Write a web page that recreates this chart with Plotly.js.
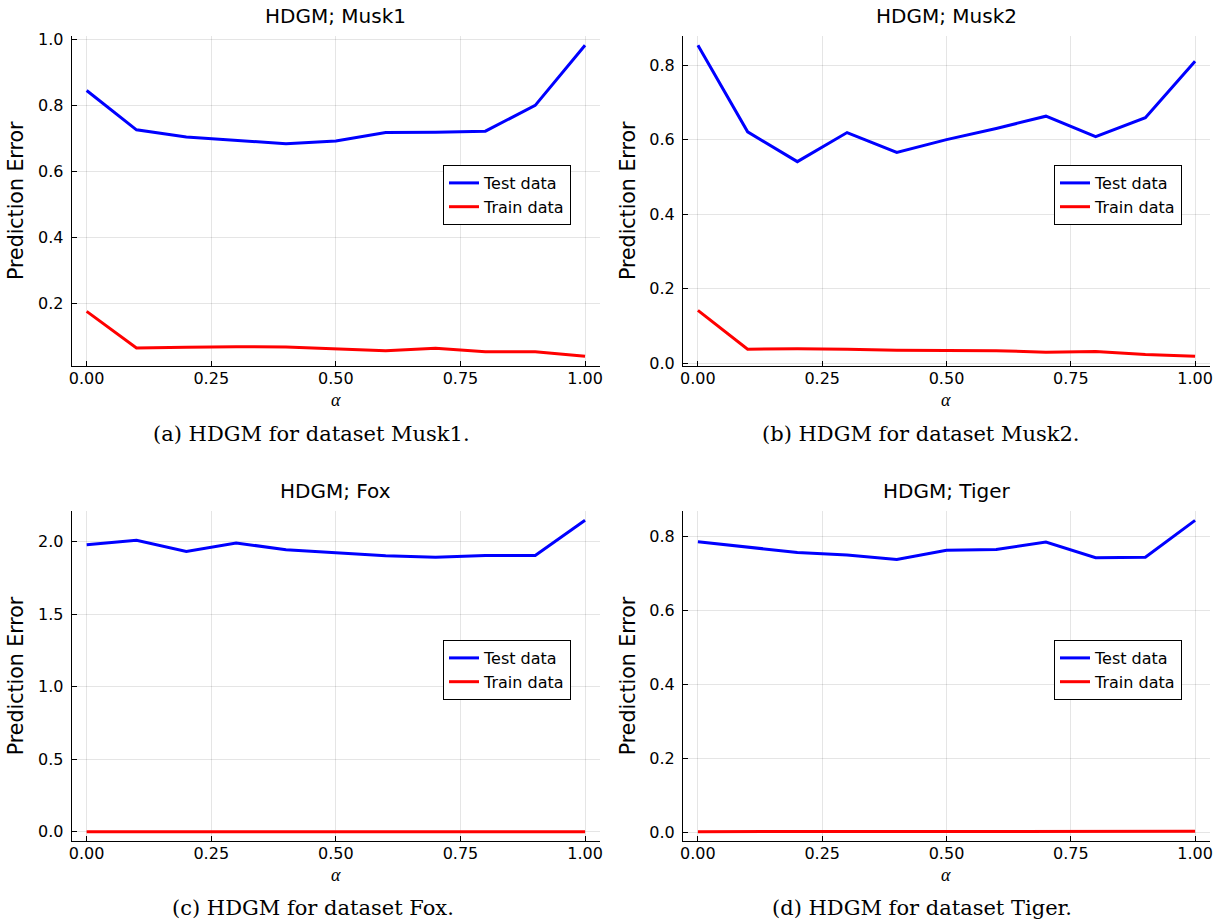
<!DOCTYPE html>
<html>
<head>
<meta charset="utf-8">
<script src="https://cdn.plot.ly/plotly-3.0.1.min.js"></script>
<style>html,body{margin:0;padding:0;background:#fff;}#chart{width:1221px;height:923px;}</style>
</head>
<body>
<div id="chart"></div>
<script>
// ---- data ----
const alpha = [0.0, 0.1, 0.2, 0.3, 0.4, 0.5, 0.6, 0.7, 0.8, 0.9, 1.0];

const musk1Test  = [0.846, 0.727, 0.705, 0.696, 0.685, 0.693, 0.719, 0.720, 0.723, 0.801, 0.983];
const musk1Train = [0.177, 0.066, 0.068, 0.070, 0.069, 0.064, 0.058, 0.065, 0.055, 0.055, 0.041];

const musk2Test  = [0.853, 0.621, 0.541, 0.619, 0.566, 0.600, 0.630, 0.663, 0.608, 0.659, 0.810];
const musk2Train = [0.142, 0.038, 0.039, 0.038, 0.035, 0.035, 0.034, 0.030, 0.032, 0.024, 0.019];

const foxTest  = [1.977, 2.007, 1.931, 1.989, 1.943, 1.922, 1.901, 1.890, 1.903, 1.903, 2.145];
const foxTrain = [0.001, 0.001, 0.001, 0.001, 0.001, 0.001, 0.001, 0.001, 0.001, 0.001, 0.001];

const tigerTest  = [0.786, 0.772, 0.757, 0.750, 0.738, 0.763, 0.765, 0.785, 0.743, 0.744, 0.844];
const tigerTrain = [0.001, 0.001, 0.001, 0.001, 0.001, 0.001, 0.001, 0.001, 0.001, 0.001, 0.002];

const panelTitles = ["HDGM; Musk1", "HDGM; Musk2", "HDGM; Fox", "HDGM; Tiger"];
const captions = ["(a) HDGM for dataset Musk1.", "(b) HDGM for dataset Musk2.",
                  "(c) HDGM for dataset Fox.", "(d) HDGM for dataset Tiger."];
const seriesNames = ["Test data", "Train data"];
const xLabel = "α";
const yLabel = "Prediction Error";
const xTicks = [0, 0.25, 0.5, 0.75, 1.0];
const yTickSteps = [0.2, 0.2, 0.5, 0.2];

// ---- layout helpers ----
const W = 1221, H = 923;
const panels = [
  {test: musk1Test, train: musk1Train, x0: 71.7, x1: 600, y0: 36, y1: 365.6, lx: 443, ly: 165},
  {test: musk2Test, train: musk2Train, x0: 683, x1: 1210, y0: 36, y1: 365.6, lx: 1054, ly: 165},
  {test: foxTest, train: foxTrain, x0: 71.7, x1: 600, y0: 511, y1: 841, lx: 443, ly: 640},
  {test: tigerTest, train: tigerTrain, x0: 683, x1: 1210, y0: 511, y1: 841, lx: 1054, ly: 640}
];
const captionPos = [{x: 311, y: 434}, {x: 921, y: 434}, {x: 313, y: 908}, {x: 922, y: 908}];

const sans = "DejaVu Sans";
const traces = [];
const layout = {
  width: W, height: H,
  margin: {l: 0, r: 0, t: 0, b: 0},
  paper_bgcolor: "#fff", plot_bgcolor: "#fff",
  font: {family: sans, color: "#000", size: 16},
  annotations: [],
  showlegend: true
};

panels.forEach((p, i) => {
  const n = i + 1;
  const xa = n === 1 ? "xaxis" : "xaxis" + n;
  const ya = n === 1 ? "yaxis" : "yaxis" + n;
  const xr = n === 1 ? "x" : "x" + n;
  const yr = n === 1 ? "y" : "y" + n;
  const lg = n === 1 ? "legend" : "legend" + n;

  traces.push({x: alpha, y: p.test, type: "scatter", mode: "lines", name: seriesNames[0],
    line: {color: "#0000ff", width: 3}, xaxis: xr, yaxis: yr, legend: lg});
  traces.push({x: alpha, y: p.train, type: "scatter", mode: "lines", name: seriesNames[1],
    line: {color: "#ff0000", width: 3}, xaxis: xr, yaxis: yr, legend: lg});

  const all = p.test.concat(p.train);
  const lo = Math.min(...all), hi = Math.max(...all), pad = 0.03 * (hi - lo);

  layout[xa] = {
    domain: [p.x0 / W, p.x1 / W], anchor: yr, range: [-0.03, 1.03],
    tickvals: xTicks, tickformat: ".2f",
    showline: true, linecolor: "#000", linewidth: 1, mirror: false,
    ticks: "inside", ticklen: 5, tickcolor: "#000", tickwidth: 1,
    showgrid: true, gridcolor: "rgba(0,0,0,0.1)", gridwidth: 1, zeroline: false,
    tickfont: {family: sans, size: 16, color: "#000"}, ticklabelstandoff: -2,
    automargin: false, fixedrange: true
  };
  layout[ya] = {
    domain: [1 - p.y1 / H, 1 - p.y0 / H], anchor: xr, range: [lo - pad, hi + pad],
    dtick: yTickSteps[i], tick0: 0, tickformat: ".1f",
    showline: true, linecolor: "#000", linewidth: 1, mirror: false,
    ticks: "inside", ticklen: 5, tickcolor: "#000", tickwidth: 1,
    showgrid: true, gridcolor: "rgba(0,0,0,0.1)", gridwidth: 1, zeroline: false,
    tickfont: {family: sans, size: 16, color: "#000"}, ticklabelstandoff: 4,
    title: {text: yLabel, font: {family: sans, size: 20.5, color: "#000"}, standoff: 8},
    automargin: false, fixedrange: true
  };
  layout[lg] = {
    x: p.lx / W, y: 1 - p.ly / H, xanchor: "left", yanchor: "top",
    xref: "paper", yref: "paper",
    bgcolor: "#fff", bordercolor: "#000", borderwidth: 1,
    font: {family: sans, size: 16, color: "#000"},
    itemwidth: 30, tracegroupgap: 0
  };

  // x-axis label (alpha), placed just under the tick labels
  layout.annotations.push({
    text: xLabel, xref: "paper", yref: "paper",
    x: ((p.x0 + p.x1) / 2) / W, y: 1 - (p.y1 + 34) / H,
    xanchor: "center", yanchor: "middle", showarrow: false,
    font: {family: "Liberation Serif", size: 18, style: "italic", color: "#000"}
  });
  layout.annotations.push({
    text: panelTitles[i], xref: "paper", yref: "paper",
    x: ((p.x0 + p.x1) / 2) / W, y: 1 - (p.y0 - 20) / H,
    xanchor: "center", yanchor: "middle", showarrow: false,
    font: {family: sans, size: 20, color: "#000"}
  });
  layout.annotations.push({
    text: captions[i], xref: "paper", yref: "paper",
    x: captionPos[i].x / W, y: 1 - captionPos[i].y / H,
    xanchor: "center", yanchor: "middle", showarrow: false,
    font: {family: "DejaVu Serif", size: 21, color: "#000"}
  });
});

Plotly.newPlot("chart", traces, layout, {displayModeBar: false, staticPlot: true});
</script>
</body>
</html>
